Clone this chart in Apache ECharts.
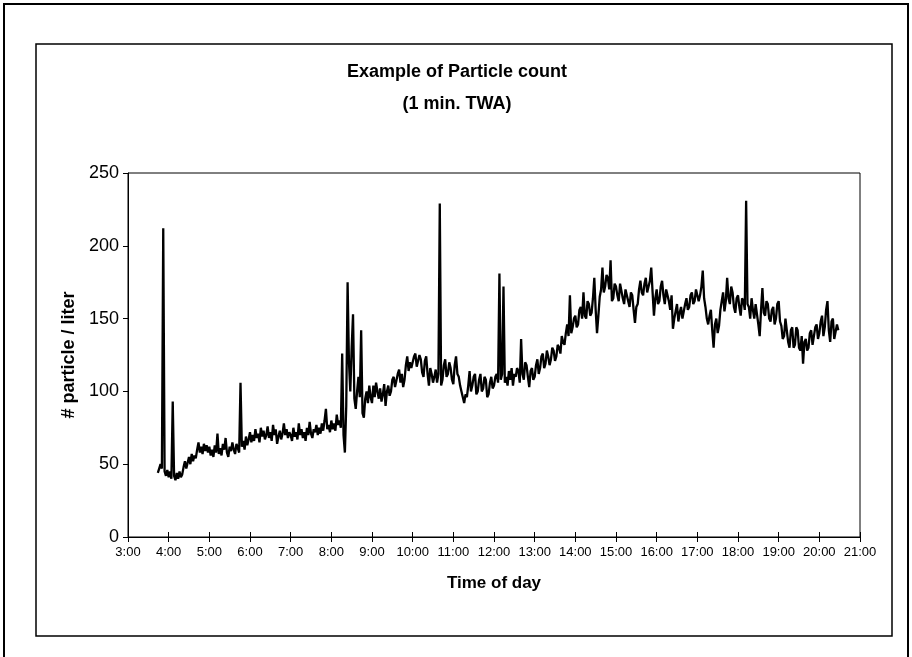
<!DOCTYPE html>
<html lang="en">
<head>
    <meta charset="UTF-8">
    <title>Particle count</title>
    <script src="https://cdn.jsdelivr.net/npm/echarts@6/dist/echarts.min.js"></script>
    <style>
	html, body { padding: 0; margin: 0; width: 100%; height: 100%; background: #fff; }
	#chart { width: 912px; height: 657px; }
    </style>
</head>
<body>
    <div id="chart"></div>
    <script type="text/javascript">
        // sampling: first reading 3:44, one value every 2 minutes
        var startMinute = 224;
        var stepMinutes = 2;
        var titleText = 'Example of Particle count\n(1 min. TWA)';
        var xName = 'Time of day';
        var yName = '# particle / liter';
        // particles per liter, hour by hour
        var count03 = [44, 47, 50, 47, 212, 45, 42, 46];
        var count04 = [41, 45, 40, 93, 42, 39, 44, 40, 45, 41, 43, 48, 52, 47, 51, 55, 50, 57, 52, 56, 54, 60, 65, 58, 62, 57, 64, 59, 63, 58];
        var count05 = [62, 56, 60, 55, 63, 58, 71, 57, 61, 56, 64, 60, 68, 58, 55, 62, 59, 65, 60, 57, 64, 61, 58, 106, 62, 66, 60, 69, 63, 67];
        var count06 = [72, 65, 70, 66, 74, 68, 71, 65, 75, 69, 73, 67, 70, 76, 68, 72, 66, 77, 70, 74, 64, 69, 73, 67, 71, 78, 70, 74, 68, 72];
        var count07 = [70, 66, 75, 69, 72, 67, 78, 70, 74, 68, 72, 66, 75, 70, 79, 71, 68, 74, 72, 77, 70, 75, 71, 78, 73, 80, 88, 74, 77, 72];
        var count08 = [80, 74, 78, 73, 84, 77, 80, 75, 126, 70, 58, 90, 175, 120, 100, 130, 153, 95, 88, 100, 110, 96, 142, 85, 82, 95, 100, 92, 104, 96];
        var count09 = [92, 104, 96, 106, 100, 95, 102, 93, 98, 105, 90, 100, 104, 97, 100, 108, 110, 103, 104, 112, 115, 106, 112, 103, 108, 118, 124, 114, 120, 116];
        var count10 = [116, 124, 126, 117, 118, 125, 122, 113, 110, 121, 124, 112, 104, 116, 112, 106, 110, 115, 106, 112, 229, 104, 108, 118, 122, 110, 112, 120, 116, 108];
        var count11 = [105, 118, 124, 112, 110, 104, 100, 96, 92, 98, 96, 104, 114, 100, 104, 110, 112, 98, 100, 108, 112, 100, 102, 110, 108, 96, 98, 106, 110, 102];
        var count12 = [104, 110, 112, 106, 181, 108, 112, 172, 106, 110, 104, 114, 108, 116, 104, 112, 110, 116, 114, 106, 136, 112, 108, 120, 118, 110, 103, 114, 116, 108];
        var count13 = [110, 118, 122, 112, 116, 124, 126, 116, 119, 128, 124, 118, 122, 130, 128, 121, 124, 132, 130, 126, 138, 134, 132, 140, 146, 138, 166, 140, 144, 150];
        var count14 = [152, 144, 146, 156, 158, 150, 168, 152, 150, 162, 160, 152, 154, 164, 178, 156, 140, 152, 165, 170, 185, 168, 172, 180, 178, 170, 190, 162, 164, 174];
        var count15 = [172, 166, 162, 174, 174, 164, 160, 170, 170, 162, 158, 168, 166, 156, 147, 158, 160, 170, 176, 168, 166, 174, 178, 168, 168, 176, 185, 168, 152, 164];
        var count16 = [170, 160, 162, 172, 176, 166, 160, 170, 170, 162, 156, 166, 143, 150, 155, 160, 148, 154, 158, 150, 150, 160, 164, 156, 158, 166, 168, 160, 162, 170];
        var count17 = [170, 162, 166, 172, 183, 164, 158, 150, 146, 152, 156, 142, 130, 146, 150, 140, 145, 156, 162, 168, 155, 162, 178, 164, 160, 172, 168, 158, 154, 164];
        var count18 = [166, 158, 152, 164, 162, 156, 231, 160, 158, 150, 164, 156, 150, 160, 160, 146, 138, 156, 171, 154, 152, 162, 160, 150, 148, 156, 158, 146, 150, 160];
        var count19 = [162, 148, 145, 136, 138, 150, 150, 134, 130, 142, 144, 130, 132, 144, 142, 130, 128, 138, 119, 134, 136, 128, 130, 140, 142, 132, 133, 144, 146, 136];
        var count20 = [140, 148, 152, 138, 144, 156, 162, 142, 134, 148, 150, 136, 136, 146, 142];

        var counts = [].concat(count03, count04, count05, count06, count07, count08, count09,
            count10, count11, count12, count13, count14, count15, count16, count17, count18,
            count19, count20);
        var seriesData = [];
        for (var i = 0; i < counts.length; i++) {
            seriesData.push([startMinute + i * stepMinutes, counts[i]]);
        }

        var narrow = '"Liberation Sans Narrow", "Liberation Sans", Arial, sans-serif';
        var chart = echarts.init(document.getElementById('chart'), null, {renderer: 'canvas'});
        var option = {
            backgroundColor: '#fff',
            animation: false,
            title: {
                text: titleText, left: 452, top: 51, textAlign: 'center',
                textStyle: {color: '#000', fontSize: 18, fontWeight: 'bold', fontFamily: narrow, lineHeight: 32}
            },
            graphic: [
                {type: 'rect', shape: {x: 4, y: 4, width: 904, height: 660}, style: {fill: 'none', stroke: '#000', lineWidth: 2}},
                {type: 'rect', shape: {x: 36, y: 44, width: 856, height: 592}, style: {fill: 'none', stroke: '#000', lineWidth: 1.5}}
            ],
            grid: {left: 128, top: 173, right: 52, bottom: 120, show: true, borderColor: '#000', borderWidth: 1},
            xAxis: [{
                type: 'value', min: 180, max: 1260, interval: 60,
                name: xName, nameLocation: 'middle', nameGap: 38,
                nameTextStyle: {color: '#000', fontSize: 17, fontWeight: 'bold', fontFamily: narrow},
                axisLine: {show: true, onZero: false, lineStyle: {color: '#000', width: 1}},
                axisTick: {show: true, length: 5, lineStyle: {color: '#000'}},
                axisLabel: {
                    color: '#000', fontSize: 13, fontFamily: narrow, margin: 9,
                    formatter: function (v) { return Math.floor(v / 60) + ':00'; }
                },
                splitLine: {show: false}
            }, {
                type: 'value', min: 180, max: 1260, interval: 60, position: 'bottom',
                axisLine: {show: false},
                axisTick: {show: true, inside: true, length: 5, lineStyle: {color: '#000'}},
                axisLabel: {show: false},
                splitLine: {show: false}
            }],
            yAxis: {
                type: 'value', min: 0, max: 250, interval: 50,
                name: yName, nameLocation: 'middle', nameGap: 50,
                nameTextStyle: {color: '#000', fontSize: 18, fontWeight: 'bold', fontFamily: 'Liberation Sans, Arial, sans-serif'},
                axisLine: {show: true, lineStyle: {color: '#000', width: 1}},
                axisTick: {show: true, length: 5, lineStyle: {color: '#000'}},
                axisLabel: {color: '#000', fontSize: 18, fontFamily: narrow, margin: 9},
                splitLine: {show: false}
            },
            series: [{
                type: 'line', data: seriesData, showSymbol: false,
                lineStyle: {color: '#000', width: 2.3}
            }]
        };
        chart.setOption(option);
    </script>
</body>
</html>
